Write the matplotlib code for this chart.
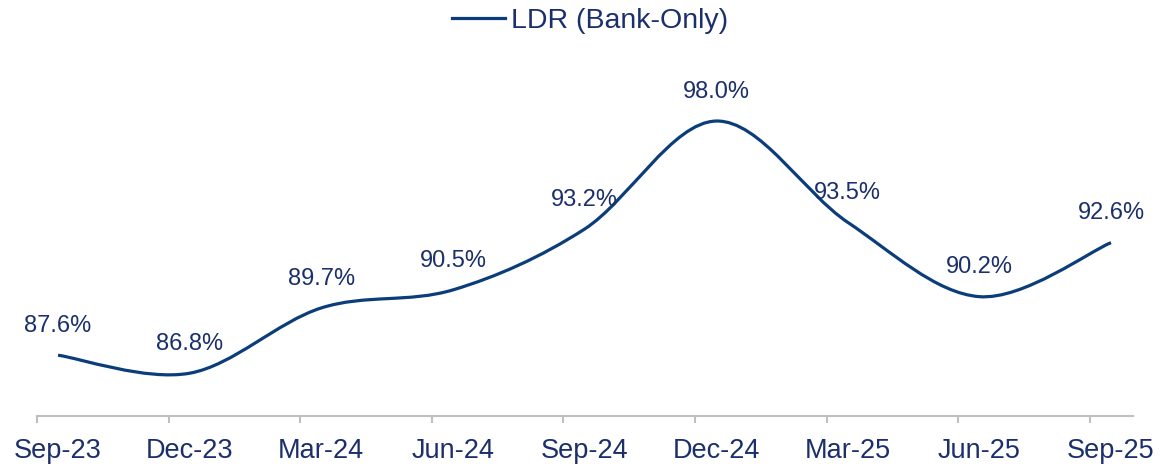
import numpy as np
import matplotlib
matplotlib.use('Agg')
import matplotlib.pyplot as plt
from matplotlib.path import Path
from matplotlib.patches import PathPatch
from matplotlib.lines import Line2D

quarters = ['Sep-23', 'Dec-23', 'Mar-24', 'Jun-24', 'Sep-24',
            'Dec-24', 'Mar-25', 'Jun-25', 'Sep-25']
ldr = [87.6, 86.8, 89.7, 90.5, 93.2, 98.0, 93.5, 90.2, 92.6]
series_name = 'LDR (Bank-Only)'

line_color = '#0B3D7A'
text_color = '#1A2F6B'
axis_grey = '#BFBFBF'

plt.rcParams['font.family'] = ['Liberation Sans', 'DejaVu Sans']

fig = plt.figure(figsize=(11.6, 4.66), dpi=100)
ax = fig.add_axes([0.0319, 0.1073, 0.9448, 0.7296])

# smoothed line like excel: cubic bezier segments (catmull-rom control points)
x = np.arange(len(ldr), dtype=float)
pts = np.column_stack([x, ldr])
ext = np.vstack([pts[0], pts, pts[-1]])
verts = [pts[0]]
codes = [Path.MOVETO]
for i in range(len(pts) - 1):
    p0, p1, p2, p3 = ext[i], ext[i + 1], ext[i + 2], ext[i + 3]
    verts += [p1 + (p2 - p0) / 6, p2 - (p3 - p1) / 6, p2]
    codes += [Path.CURVE4] * 3
ax.add_patch(PathPatch(Path(verts, codes), fill=False, edgecolor=line_color,
                       lw=2.3, capstyle='butt', transform=ax.transData))

for xi, v in zip(x, ldr):
    ax.annotate('%.1f%%' % v, (xi, v), xytext=(0, 21), textcoords='offset points',
                ha='center', va='center', fontsize=17, color=text_color)

ax.set_xlim(-0.16, 8.167)
ax.set_ylim(84.9, 100)

# tick marks sit a bit left of each category, labels on the category
ax.set_xticks(x - 0.16)
ax.set_xticklabels([])
ax.tick_params(axis='x', which='major', length=5, width=1.5, color=axis_grey)
ax.set_xticks(x, minor=True)
ax.set_xticklabels(quarters, minor=True)
ax.tick_params(axis='x', which='minor', length=0, pad=16, labelsize=19.5,
               labelcolor=text_color)
ax.set_yticks([])

for s in ['top', 'right', 'left']:
    ax.spines[s].set_visible(False)
ax.spines['bottom'].set_color(axis_grey)
ax.spines['bottom'].set_linewidth(1.5)

handle = Line2D([], [], color=line_color, lw=2.3)
fig.legend([handle], [series_name], loc='center', bbox_to_anchor=(0.5086, 1 - 21 / 466),
           frameon=False, fontsize=20.5, handlelength=1.86, handletextpad=0.2,
           labelcolor=text_color, borderpad=0)

fig.savefig('out.png', dpi=100)
